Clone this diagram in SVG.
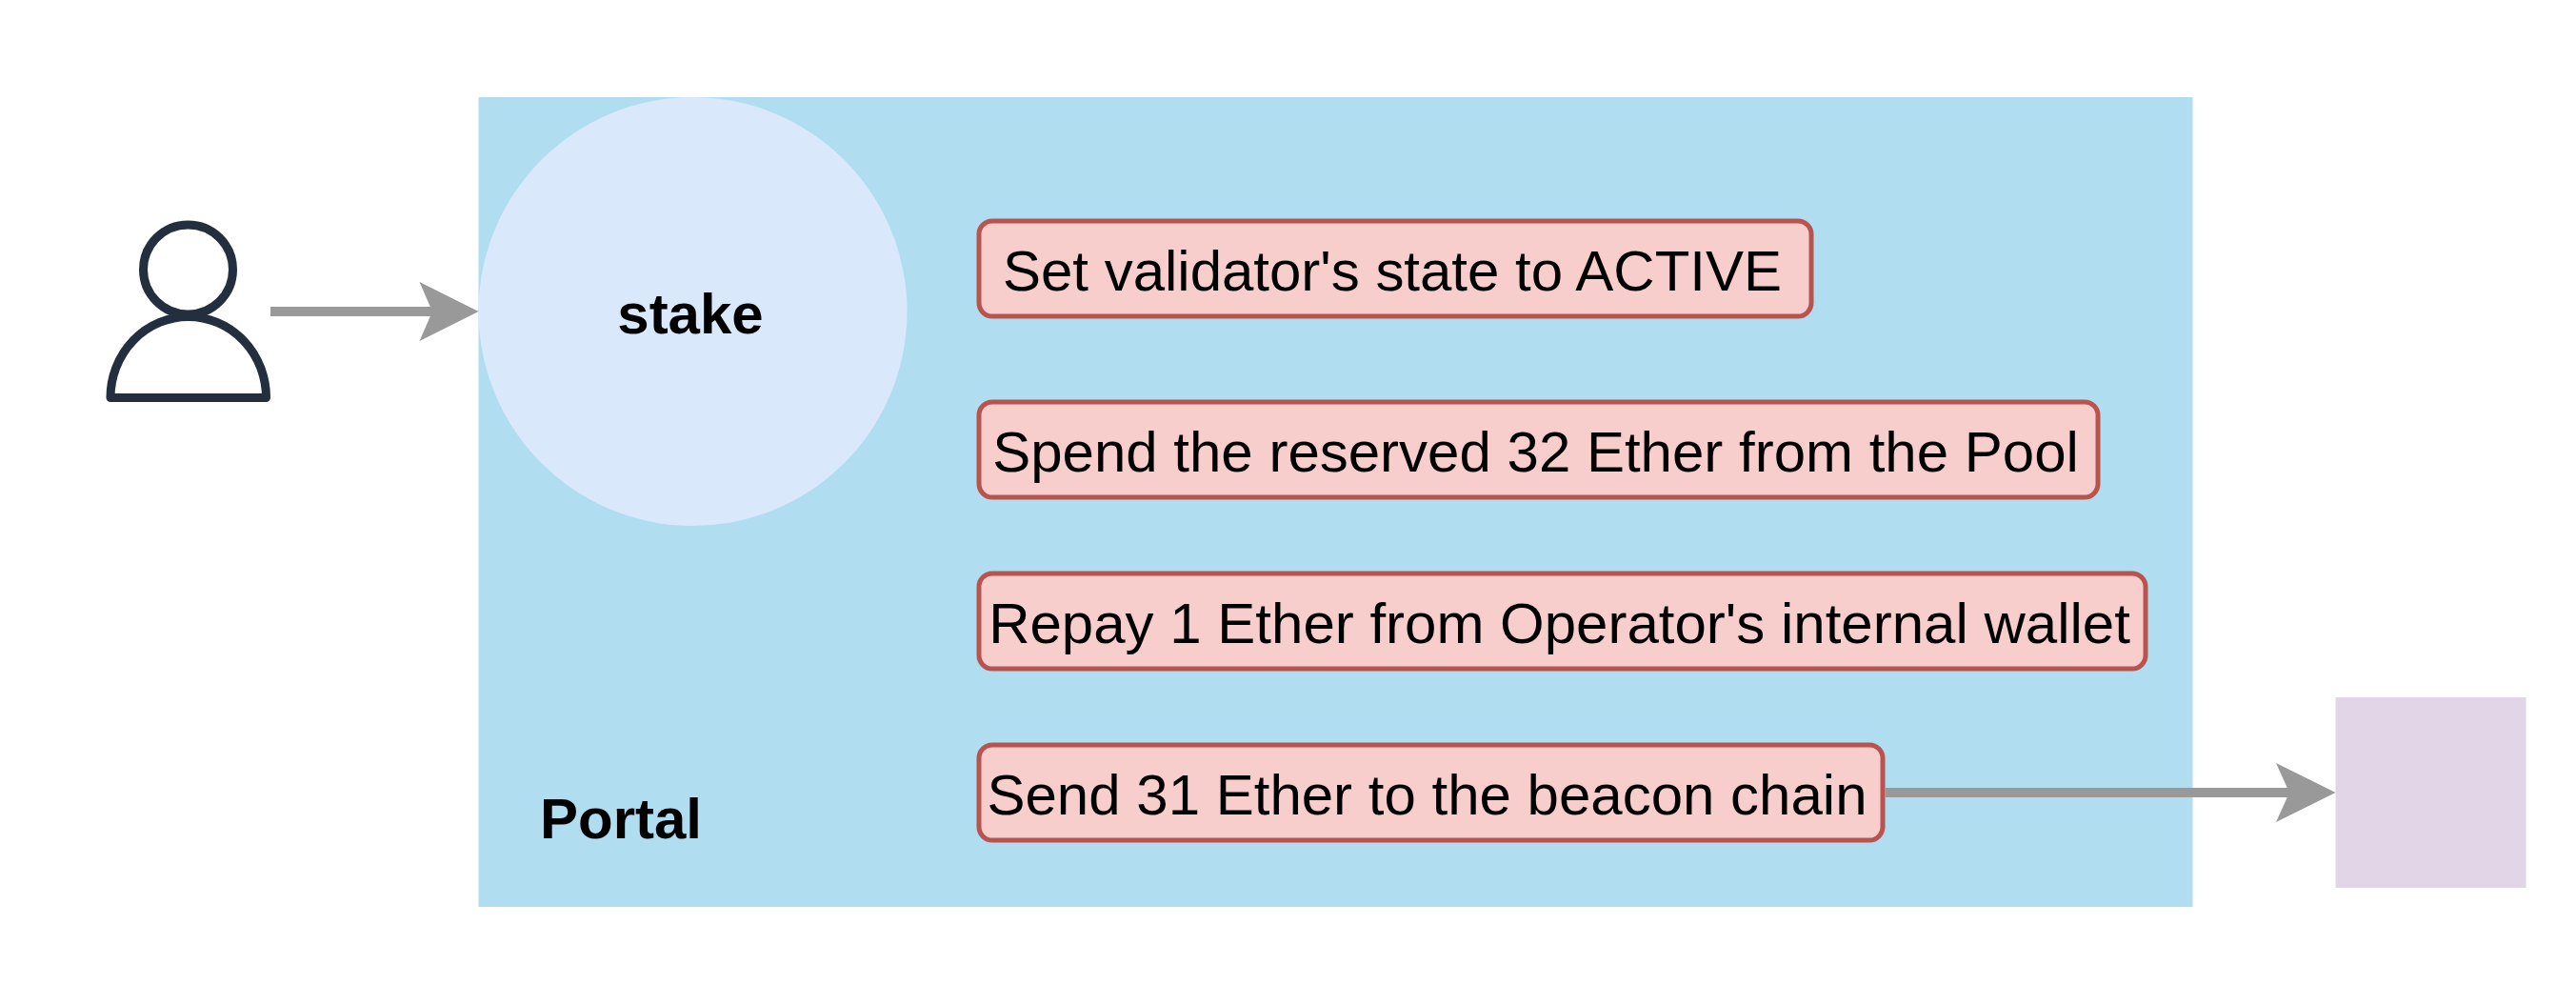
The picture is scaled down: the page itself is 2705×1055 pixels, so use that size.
<svg xmlns="http://www.w3.org/2000/svg" width="2705" height="1055" viewBox="0 0 2705 1055">
  <style>
    text { font-family: "Liberation Sans", Arial, sans-serif; font-size: 60px; fill: #000; text-anchor: middle; }
    .b { font-weight: bold; }
    .step { fill: #f8cecc; stroke: #b85450; stroke-width: 5; }
    .link { fill: none; stroke: #999999; stroke-width: 10; }
    .head { fill: #999999; }
    .person { fill: none; stroke: #232f3e; stroke-width: 9; stroke-linejoin: round; }
  </style>
  <rect width="2705" height="1055" fill="#ffffff"/>
  <g id="portal">
    <rect x="502.500" y="102" width="1800" height="850" fill="#b1ddf0"/>
    <text class="b" x="652" y="880">Portal</text>
  </g>
  <g id="stake">
    <circle cx="727.500" cy="327" r="225" fill="#dae8fc"/>
    <text class="b" x="725" y="350">stake</text>
  </g>
  <g id="user">
    <circle class="person" cx="197.500" cy="283" r="47"/>
    <path class="person" d="M116 417.500 A81.700 85 0 0 1 279.500 417.500 Z"/>
  </g>
  <g id="step1">
    <rect class="step" x="1028" y="232" width="874" height="100" rx="14"/>
    <text x="1462" y="305" textLength="818" lengthAdjust="spacing">Set validator's state to ACTIVE</text>
  </g>
  <g id="step2">
    <rect class="step" x="1028" y="422" width="1175" height="100" rx="14"/>
    <text x="1612.500" y="495">Spend the reserved 32 Ether from the Pool</text>
  </g>
  <g id="step3">
    <rect class="step" x="1028" y="602" width="1225" height="100" rx="14"/>
    <text x="1637.500" y="675">Repay 1 Ether from Operator's internal wallet</text>
  </g>
  <g id="step4">
    <rect class="step" x="1028" y="782" width="949" height="100" rx="14"/>
    <text x="1498.500" y="855">Send 31 Ether to the beacon chain</text>
  </g>
  <g id="beacon">
    <rect x="2452.500" y="732" width="200" height="200" fill="#e1d5e7"/>
  </g>
  <g id="connectors">
    <path class="link" d="M284 327 H456"/>
    <path class="head" d="M502.500 327 L440.500 296 L454 327 L440.500 358 Z"/>
    <path class="link" d="M1979.500 832 H2406"/>
    <path class="head" d="M2452.500 832 L2390 801 L2404 832 L2390 863 Z"/>
  </g>
</svg>
